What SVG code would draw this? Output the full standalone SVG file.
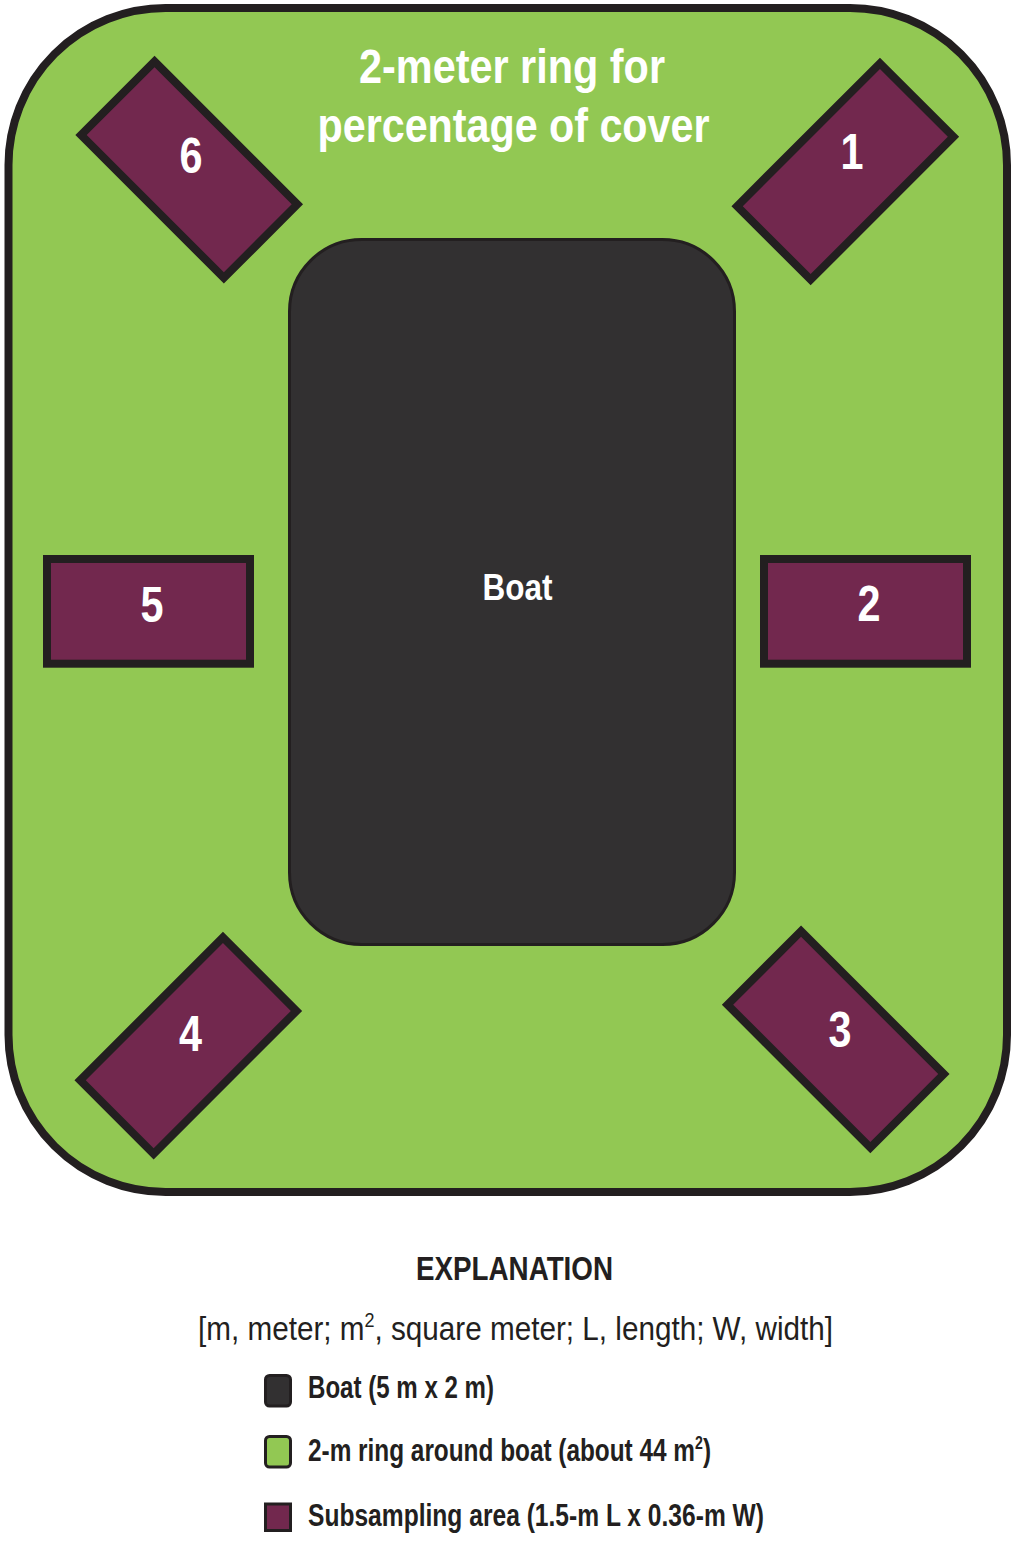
<svg xmlns="http://www.w3.org/2000/svg" width="1016" height="1551" viewBox="0 0 1016 1551">
<style>
.ring{fill:#92C853;stroke:#231F20;stroke-width:8}
.boat{fill:#323031;stroke:#231F20;stroke-width:3}
.sub{fill:#72284E;stroke:#231F20;stroke-width:8}
.w{fill:#FFFFFF;font-family:"Liberation Sans",Arial,sans-serif;font-weight:bold;text-anchor:middle}
.k{fill:#231F20;font-family:"Liberation Sans",Arial,sans-serif;font-weight:bold}
.l{fill:#231F20;font-family:"Liberation Sans",Arial,sans-serif;font-weight:normal}
</style>
<rect width="1016" height="1551" fill="#FFFFFF"/>
<g id="ring">
<rect class="ring" x="8.5" y="8" width="998.5" height="1184" rx="157" ry="157"/>
<text class="w" x="512" y="83" font-size="49" textLength="306" lengthAdjust="spacingAndGlyphs">2-meter ring for</text>
<text class="w" x="513.5" y="141.5" font-size="49" textLength="392" lengthAdjust="spacingAndGlyphs">percentage of cover</text>
</g>
<g id="boat">
<rect class="boat" x="289.5" y="239.5" width="445" height="705" rx="72" ry="72"/>
<text class="w" x="517.5" y="600" font-size="36" textLength="70" lengthAdjust="spacingAndGlyphs">Boat</text>
</g>
<g id="sub1">
<rect class="sub" x="-101" y="-52" width="202" height="104" transform="translate(845.3,171.5) rotate(-45)"/>
<text class="w" x="852" y="169" font-size="50" textLength="23" lengthAdjust="spacingAndGlyphs">1</text>
</g>
<g id="sub2">
<rect class="sub" x="764" y="559" width="203" height="104.7"/>
<text class="w" x="869" y="621" font-size="50" textLength="23" lengthAdjust="spacingAndGlyphs">2</text>
</g>
<g id="sub3">
<rect class="sub" x="-101" y="-52" width="202" height="104" transform="translate(835.7,1039.4) rotate(45)"/>
<text class="w" x="840" y="1046.5" font-size="50" textLength="23" lengthAdjust="spacingAndGlyphs">3</text>
</g>
<g id="sub4">
<rect class="sub" x="-101" y="-52" width="202" height="104" transform="translate(188.3,1045.6) rotate(-45)"/>
<text class="w" x="190.5" y="1051" font-size="50" textLength="23" lengthAdjust="spacingAndGlyphs">4</text>
</g>
<g id="sub5">
<rect class="sub" x="47" y="559" width="203" height="104.7"/>
<text class="w" x="152" y="621.5" font-size="50" textLength="23" lengthAdjust="spacingAndGlyphs">5</text>
</g>
<g id="sub6">
<rect class="sub" x="-101" y="-52" width="202" height="104" transform="translate(189.2,169.7) rotate(45)"/>
<text class="w" x="191" y="173" font-size="50" textLength="23" lengthAdjust="spacingAndGlyphs">6</text>
</g>
<g id="connectors"></g>
<g id="legend">
<text class="k" x="514.5" y="1280" font-size="33" text-anchor="middle" textLength="197" lengthAdjust="spacingAndGlyphs">EXPLANATION</text>
<text class="l" x="198" y="1339.5" font-size="33" textLength="635" lengthAdjust="spacingAndGlyphs">[m, meter; m<tspan font-size="20" dy="-13">2</tspan><tspan dy="13">, square meter; L, length; W, width]</tspan></text>
<g id="legend-boat">
<rect x="265.5" y="1375.5" width="25" height="30.5" rx="4" ry="4" fill="#323031" stroke="#231F20" stroke-width="3"/>
<text class="k" x="308" y="1397.5" font-size="31" textLength="186" lengthAdjust="spacingAndGlyphs">Boat (5 m x 2 m)</text>
</g>
<g id="legend-ring">
<rect x="265.5" y="1436.5" width="25" height="30.5" rx="4" ry="4" fill="#92C853" stroke="#231F20" stroke-width="3"/>
<text class="k" x="308" y="1461" font-size="31" textLength="403" lengthAdjust="spacingAndGlyphs">2-m ring around boat (about 44 m<tspan font-size="18" dy="-12">2</tspan><tspan dy="12">)</tspan></text>
</g>
<g id="legend-sub">
<rect x="265.5" y="1504" width="25" height="26.5" fill="#72284E" stroke="#231F20" stroke-width="3"/>
<text class="k" x="308" y="1526" font-size="31" textLength="456" lengthAdjust="spacingAndGlyphs">Subsampling area (1.5-m L x 0.36-m W)</text>
</g>
</g>
</svg>
